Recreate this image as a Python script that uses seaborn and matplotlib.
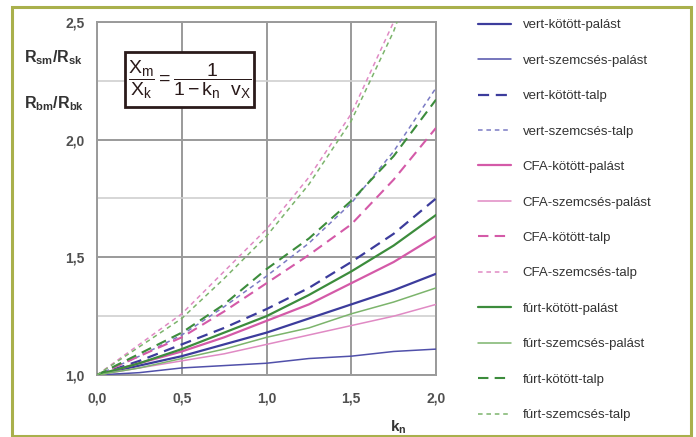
import matplotlib
matplotlib.use("Agg")
import matplotlib.pyplot as plt
import matplotlib.patches as patches
from matplotlib.ticker import FuncFormatter, MultipleLocator
import seaborn as sns

# ==========================================
# DATA
# ==========================================

kn = [0.0, 0.25, 0.5, 0.75, 1.0, 1.25, 1.5, 1.75, 2.0]
kn_steep = [0.0, 0.25, 0.5, 0.75, 1.0, 1.25, 1.5, 1.75, 1.8]

vert_kotott_palast = [1.00, 1.04, 1.08, 1.13, 1.18, 1.24, 1.30, 1.36, 1.43]
vert_szemcses_palast = [1.00, 1.01, 1.03, 1.04, 1.05, 1.07, 1.08, 1.10, 1.11]
vert_kotott_talp = [1.00, 1.06, 1.13, 1.20, 1.28, 1.37, 1.48, 1.60, 1.75]
vert_szemcses_talp = [1.00, 1.08, 1.17, 1.29, 1.42, 1.56, 1.73, 1.95, 2.22]
cfa_kotott_palast = [1.00, 1.05, 1.10, 1.16, 1.23, 1.30, 1.39, 1.48, 1.59]
cfa_szemcses_palast = [1.00, 1.03, 1.06, 1.09, 1.13, 1.17, 1.21, 1.25, 1.30]
cfa_kotott_talp = [1.00, 1.08, 1.16, 1.27, 1.39, 1.51, 1.64, 1.83, 2.05]
cfa_szemcses_talp = [1.00, 1.13, 1.26, 1.44, 1.62, 1.84, 2.11, 2.50, 2.62]
furt_kotott_palast = [1.00, 1.05, 1.11, 1.18, 1.25, 1.34, 1.44, 1.55, 1.68]
furt_szemcses_palast = [1.00, 1.03, 1.07, 1.11, 1.16, 1.20, 1.26, 1.31, 1.37]
furt_kotott_talp = [1.00, 1.09, 1.18, 1.30, 1.45, 1.58, 1.74, 1.93, 2.17]
furt_szemcses_talp = [1.00, 1.12, 1.24, 1.41, 1.59, 1.81, 2.08, 2.46, 2.56]

labels = [
    "vert-kötött-palást", "vert-szemcsés-palást", "vert-kötött-talp", "vert-szemcsés-talp",
    "CFA-kötött-palást", "CFA-szemcsés-palást", "CFA-kötött-talp", "CFA-szemcsés-talp",
    "fúrt-kötött-palást", "fúrt-szemcsés-palást", "fúrt-kötött-talp", "fúrt-szemcsés-talp",
]

# ==========================================
# STYLE
# ==========================================

sns.set_style("white")
plt.rcParams['font.family'] = ['Liberation Sans', 'DejaVu Sans']
plt.rcParams['mathtext.fontset'] = 'custom'
plt.rcParams['mathtext.rm'] = 'Liberation Sans'
plt.rcParams['mathtext.it'] = 'Liberation Sans'
plt.rcParams['mathtext.bf'] = 'Liberation Sans:bold'

blue_d, blue_l = "#3c3c9c", "#7a7ac4"
pink_d, pink_l = "#d45aa8", "#e08ac4"
green_d, green_l = "#3c8c3c", "#7cb46c"

long_dash = (0, (5, 3))
short_dash = (0, (3, 2.5))

series = [
    (kn, vert_kotott_palast, blue_d, 1.6, "-"),
    (kn, vert_szemcses_palast, "#5050aa", 1.1, "-"),
    (kn, vert_kotott_talp, blue_d, 1.6, long_dash),
    (kn, vert_szemcses_talp, blue_l, 1.1, short_dash),
    (kn, cfa_kotott_palast, pink_d, 1.6, "-"),
    (kn, cfa_szemcses_palast, pink_l, 1.1, "-"),
    (kn, cfa_kotott_talp, pink_d, 1.5, long_dash),
    (kn_steep, cfa_szemcses_talp, pink_l, 1.1, short_dash),
    (kn, furt_kotott_palast, green_d, 1.6, "-"),
    (kn, furt_szemcses_palast, green_l, 1.1, "-"),
    (kn, furt_kotott_talp, green_d, 1.5, long_dash),
    (kn_steep, furt_szemcses_talp, green_l, 1.1, short_dash),
]

# ==========================================
# PLOT
# ==========================================

fig = plt.figure(figsize=(6.96, 4.37), dpi=100)
ax = fig.add_axes([97 / 696, 1 - 375 / 437, (436 - 97) / 696, (375 - 22) / 437])

for (x, y, col, lw, ls), lab in zip(series, labels):
    sns.lineplot(x=x, y=y, color=col, linewidth=lw, linestyle=ls, label=lab, ax=ax, zorder=3)

ax.set_xlim(0, 2.0)
ax.set_ylim(1.0, 2.5)
ax.xaxis.set_major_locator(MultipleLocator(0.5))
ax.yaxis.set_major_locator(MultipleLocator(0.5))
ax.yaxis.set_minor_locator(MultipleLocator(0.25))
comma = FuncFormatter(lambda v, p: f"{v:.1f}".replace(".", ","))
ax.xaxis.set_major_formatter(comma)
ax.yaxis.set_major_formatter(comma)

ax.grid(which="major", color="#9a9a9a", linewidth=1.4)
ax.grid(which="minor", axis="y", color="#d0d0d0", linewidth=1.2)
ax.set_axisbelow(True)
for s in ax.spines.values():
    s.set_color("#9a9a9a")
    s.set_linewidth(1.4)

ax.tick_params(axis="x", length=0, pad=12, labelsize=10, labelcolor="#505050")
ax.tick_params(axis="y", length=0, pad=9, labelsize=10, labelcolor="#505050")
for t in ax.get_xticklabels() + ax.get_yticklabels():
    t.set_fontweight("bold")
ax.set_xlabel("")
ax.set_ylabel("")

handles, labs = ax.get_legend_handles_labels()
ax.get_legend().remove()
fig.legend(handles, labs, loc="upper left", bbox_to_anchor=(478 / 696, 1 - 19 / 437),
           frameon=False, fontsize=9.5, labelspacing=1.76, handlelength=2.5,
           handletextpad=0.9, borderpad=0, borderaxespad=0, labelcolor="#333333")

# axis titles
fig.text(24 / 696, 1 - 58 / 437, r"$\mathbf{R_{sm}/R_{sk}}$", ha="left", va="center",
         fontsize=11.5, color="#333333")
fig.text(24 / 696, 1 - 104 / 437, r"$\mathbf{R_{bm}/R_{bk}}$", ha="left", va="center",
         fontsize=11.5, color="#333333")
fig.text(398 / 696, 1 - 427 / 437, r"$\mathbf{k_{n}}$", ha="center", va="center",
         fontsize=11, color="#333333")

# formula box
fig.patches.append(patches.Rectangle((125 / 696, 1 - 107 / 437), 129 / 696, 55 / 437,
                                     transform=fig.transFigure, fill=True, facecolor="white",
                                     edgecolor="#2a1a1a", linewidth=2, zorder=5))
fig.text(190 / 696, 1 - 80 / 437, r"$\dfrac{X_m}{X_k} = \dfrac{1}{1 - k_n\ \ v_X}$",
         ha="center", va="center", fontsize=14, color="#2a1a1a", zorder=6)

# outer border
fig.patches.append(patches.Rectangle((12 / 696, 1 - 436 / 437), (691 - 12) / 696, (436 - 7) / 437,
                                     transform=fig.transFigure, fill=False,
                                     edgecolor="#a9b04c", linewidth=2.2))

plt.savefig("out.png", dpi=100)
